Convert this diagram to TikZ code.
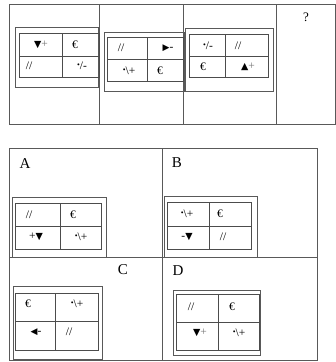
\documentclass[tikz,border=0pt]{standalone}
\usepackage{fontspec}
\setmainfont{Liberation Serif}
\newfontfamily\symf{DejaVu Sans}
\newcommand{\tdn}{{\symf\fontsize{9.5}{9.5}\selectfont ▼}}
\newcommand{\tup}{{\symf\fontsize{9.5}{9.5}\selectfont ▲}}
\newcommand{\trt}{{\symf\fontsize{9}{9}\selectfont ▶}}
\newcommand{\tlt}{{\symf\fontsize{9}{9}\selectfont ◀}}
\newcommand{\gplus}{\textcolor{black!55}{+}}
\newcommand{\rdot}{\raisebox{0.45ex}{\fontsize{8}{8}\selectfont •}}
\newcommand{\dotbs}{\rdot\textbackslash+}
\newcommand{\dotsl}{\rdot/-}
\begin{document}
\begin{tikzpicture}[x=1pt,y=-1pt,
  panel/.style={draw=black!65,line width=1pt},
  frm/.style={draw=black!65,line width=0.9pt},
  tbl/.style={draw=black!70,line width=0.8pt},
  cell/.style={inner sep=0pt,font=\fontsize{11.5}{11.5}\selectfont},
  lbl/.style={inner sep=0pt,font=\fontsize{15}{15}\selectfont}]
\useasboundingbox (0,0) rectangle (336,362);
% top panel
\draw[panel] (9,4) rectangle (335,124);
\draw[panel] (99.5,4) -- (99.5,124);
\draw[panel] (183,4) -- (183,124);
\draw[panel] (276,4) -- (276,124);
\node[inner sep=0pt,font=\fontsize{13}{13}\selectfont] (q) at (306,17) {?};
% cell 1
\draw[frm] (15,27) rectangle (98,87);
\draw[tbl] (19,33) rectangle (99,77) (19,56) -- (99,56) (62,33) -- (62,77);
\node[cell] (c1a) at (41,45) {\tdn\gplus};
\node[cell] (c1b) at (75,45) {€};
\node[cell] (c1c) at (29,66) {//};
\node[cell] (c1d) at (82,66) {\dotsl};
% cell 2
\draw[frm] (104,32) rectangle (184,91);
\draw[tbl] (107,37) rectangle (183,81) (107,59) -- (183,59) (147,37) -- (147,81);
\node[cell] (c2a) at (121,48) {//};
\node[cell] (c2b) at (168,48) {\trt-};
\node[cell] (c2c) at (129,71) {\dotbs};
\node[cell] (c2d) at (160,71) {€};
% cell 3
\draw[frm] (185,28) rectangle (273,91);
\draw[tbl] (189,34) rectangle (268,77) (189,56) -- (268,56) (225,34) -- (225,77);
\node[cell] (c3a) at (208,46) {\dotsl};
\node[cell] (c3b) at (238,46) {//};
\node[cell] (c3c) at (203,67) {€};
\node[cell] (c3d) at (248,67) {\tup\gplus};
% bottom panel
\draw[panel] (9,148) rectangle (317,360);
\draw[panel] (162,148) -- (162,360);
\draw[panel] (9,257) -- (317,257);
\node[lbl] (la) at (25,164) {A};
\node[lbl] (lb) at (177,163) {B};
\node[lbl] (lc) at (123,270) {C};
\node[lbl] (ld) at (178,271) {D};
% A
\draw[frm] (12,197) rectangle (106,257);
\draw[tbl] (15,203) rectangle (101,249) (15,226) -- (101,226) (60,203) -- (60,249);
\node[cell] (aa) at (29,215) {//};
\node[cell] (ab) at (73,215) {€};
\node[cell] (ac) at (36,237) {+\tdn};
\node[cell] (ad) at (81,237) {\dotbs};
% B
\draw[frm] (164,196) rectangle (257,257);
\draw[tbl] (167,202) rectangle (251,249) (167,226) -- (251,226) (209,202) -- (209,249);
\node[cell] (ba) at (187,214) {\dotbs};
\node[cell] (bb) at (220,214) {€};
\node[cell] (bc) at (187,237) {-\tdn};
\node[cell] (bd) at (223,237) {//};
% C
\draw[frm] (13,286) rectangle (102,359);
\draw[tbl] (15,293) rectangle (98,350) (15,321) -- (98,321) (55,293) -- (55,350);
\node[cell] (ca) at (28,304) {€};
\node[cell] (cb) at (77,304) {\dotbs};
\node[cell] (cc) at (36,332) {\tlt-};
\node[cell] (cd) at (69,332) {//};
% D
\draw[frm] (173,290) rectangle (260,355);
\draw[tbl] (176,294) rectangle (259,350) (176,322) -- (259,322) (218,294) -- (218,350);
\node[cell] (da) at (191,307) {//};
\node[cell] (db) at (232,307) {€};
\node[cell] (dc) at (200,333) {\tdn\gplus};
\node[cell] (dd) at (239,333) {\dotbs};
\end{tikzpicture}
\end{document}
